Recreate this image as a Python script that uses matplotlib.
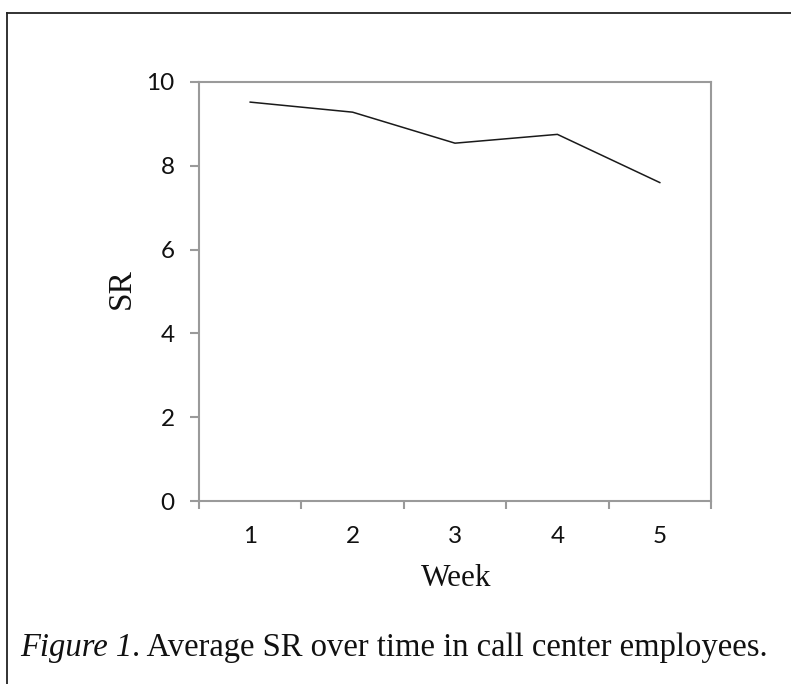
import numpy as np
import matplotlib
matplotlib.use('Agg')
import matplotlib.pyplot as plt
from matplotlib.lines import Line2D

# data
weeks = [1, 2, 3, 4, 5]
sr_mean = [9.52, 9.28, 8.54, 8.75, 7.60]
y_ticks = [0, 2, 4, 6, 8, 10]

spine_col = '#9a9a9a'

fig = plt.figure(figsize=(7.91, 6.84), dpi=100)
ax = fig.add_axes([199/791, 1 - 501/684, (711-199)/791, (501-82)/684])

ax.plot(weeks, sr_mean, color='#1a1a1a', lw=1.1)

ax.set_xlim(0.5, 5.5)
ax.set_ylim(0, 10)
ax.set_yticks(y_ticks)
ax.set_xticks(weeks)
ax.set_xticks(np.arange(0.5, 6.0, 1.0), minor=True)

for s in ax.spines.values():
    s.set_color(spine_col)
    s.set_linewidth(1.5)

ax.tick_params(axis='y', which='major', direction='out', length=6.5, width=1.5,
               color=spine_col, pad=11, labelsize=17.5, labelcolor='#111111')
ax.tick_params(axis='x', which='major', length=0, pad=18, labelsize=17.5,
               labelcolor='#111111')
ax.tick_params(axis='x', which='minor', direction='out', length=5.5, width=1.5,
               color=spine_col)
for lbl in ax.get_xticklabels() + ax.get_yticklabels():
    lbl.set_family('Lato')

fig.text(121/791, 1 - 289/684, 'SR', rotation=90, ha='center', va='center',
         family='Liberation Serif', fontsize=24, color='#111111')
fig.text(456/791, 1 - 578/684, 'Week', ha='center', va='center',
         family='Liberation Serif', fontsize=22.5, color='#111111')

# caption: italic part then roman part
fig_lbl = fig.text(20/791, 1 - 648/684, 'Figure 1', ha='left', va='center',
                   family='Liberation Serif', style='italic', fontsize=23.5,
                   color='#111111')
fig.canvas.draw()
bb = fig_lbl.get_window_extent(renderer=fig.canvas.get_renderer())
fig.text(bb.x1 / 791, 1 - 648/684, '. Average SR over time in call center employees.',
         ha='left', va='center', family='Liberation Serif', fontsize=23.5,
         color='#111111')

# figure box frame (left and top edges visible)
fig.add_artist(Line2D([7/791, 7/791], [0, 1 - 12.5/684], transform=fig.transFigure,
                      color='#222222', lw=1.3))
fig.add_artist(Line2D([7/791, 1], [1 - 12.5/684, 1 - 12.5/684], transform=fig.transFigure,
                      color='#222222', lw=1.3))

fig.savefig('out.png', dpi=100)
